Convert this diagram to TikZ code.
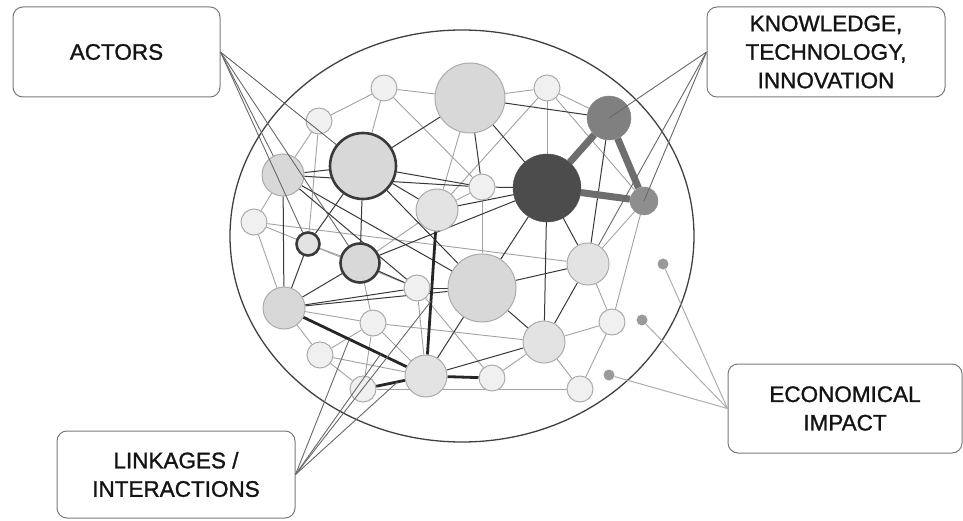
\documentclass[tikz,border=0pt]{standalone}
\usepackage{fontspec}
\setmainfont{Liberation Sans}
\newfontfamily\labelfont[FakeBold=1.2]{Liberation Sans}
\usetikzlibrary{calc}
\pgfdeclarelayer{back}
\pgfdeclarelayer{front}
\pgfsetlayers{back,main,front}

\definecolor{rimgrey}{HTML}{ABABAB}
\definecolor{palefill}{HTML}{F0F0F0}
\definecolor{midfill}{HTML}{E3E3E3}
\definecolor{greyfill}{HTML}{D8D8D8}
\definecolor{actorrim}{HTML}{3A3A3A}
\definecolor{linkdark}{HTML}{383838}
\definecolor{linklight}{HTML}{A2A2A2}
\definecolor{linkheavy}{HTML}{262626}
\definecolor{knowband}{HTML}{6E6E6E}
\definecolor{knowA}{HTML}{808080}
\definecolor{knowB}{HTML}{8E8E8E}
\definecolor{knowC}{HTML}{4C4C4C}
\definecolor{impactdot}{HTML}{9A9A9A}
\definecolor{boxrim}{HTML}{7A7A7A}
\definecolor{pointer}{HTML}{686868}
\definecolor{pointerlight}{HTML}{ADADAD}
\definecolor{textdark}{HTML}{141414}

\begin{document}
\begin{tikzpicture}[x=1pt,y=-1pt,
  dot/.style={circle,inner sep=0pt,draw=rimgrey,line width=1pt},
  pale/.style={dot,fill=palefill},
  mid/.style={dot,fill=midfill},
  grey/.style={dot,fill=greyfill},
  actor/.style={draw=actorrim,line width=2.6pt},
  know/.style={circle,inner sep=0pt,draw=#1,fill=#1},
  impact/.style={circle,inner sep=0pt,minimum size=11pt,fill=impactdot},
  lightlink/.style={draw=linklight,line width=0.9pt},
  darklink/.style={draw=linkdark,line width=1pt},
  heavylink/.style={draw=linkheavy,line width=2.8pt},
  knowlink/.style={draw=knowband,line width=7pt},
  labelbox/.style={draw=boxrim,line width=1pt,rounded corners=10pt,fill=white,
    align=center,inner sep=0pt,text=textdark,
    font=\labelfont\fontsize{22.5}{28.5}\selectfont},
  pointerline/.style={draw=pointer,line width=0.9pt},
  impactline/.style={draw=pointerlight,line width=1pt}]

\useasboundingbox (0,0) rectangle (963,521);

% ---- network nodes ----
\node[pale,minimum size=26pt] (A) at (384,88) {};
\node[pale,minimum size=26pt] (B) at (319,121) {};
\node[grey,actor,minimum size=66pt] (C) at (363,166) {};
\node[grey,minimum size=42pt] (D) at (283,175) {};
\node[grey,minimum size=70pt] (E) at (470,98) {};
\node[mid,minimum size=42pt] (O) at (437,210) {};
\node[pale,minimum size=26pt] (G) at (547,88) {};
\node[know=knowA,minimum size=44pt] (H) at (609,118) {};
\node[know=knowC,minimum size=68pt] (I) at (547,188) {};
\node[know=knowB,minimum size=28pt] (J) at (644,201) {};
\node[pale,minimum size=26pt] (K) at (482,187) {};
\node[pale,minimum size=26pt] (L) at (254,222) {};
\node[mid,actor,minimum size=23pt] (M) at (308,244) {};
\node[grey,actor,minimum size=39pt] (N) at (360,263) {};
\node[pale,minimum size=26pt] (P) at (417,288) {};
\node[grey,minimum size=68pt] (Q) at (482,288) {};
\node[grey,minimum size=42pt] (R) at (284,308) {};
\node[pale,minimum size=26pt] (S) at (373,323) {};
\node[pale,minimum size=26pt] (T) at (320,355) {};
\node[mid,minimum size=42pt] (U) at (426,376) {};
\node[pale,minimum size=26pt] (V) at (363,389) {};
\node[mid,minimum size=42pt] (W) at (588,264) {};
\node[mid,minimum size=42pt] (X) at (544,342) {};
\node[pale,minimum size=26pt] (Y) at (612,322) {};
\node[pale,minimum size=26pt] (Z) at (492,378) {};
\node[pale,minimum size=26pt] (AA) at (580,389) {};

\node[impact] (e1) at (663,264) {};
\node[impact] (e2) at (642,320) {};
\node[impact] (e3) at (609,375) {};

% ---- links and the enclosing system ----
\begin{pgfonlayer}{back}
  \draw[draw=black!75,line width=1.3pt] (462,236) ellipse [x radius=232, y radius=206];
  \foreach \a/\b in {A/B,A/E,A/C,A/K,B/D,B/M,D/L,L/M,L/R,M/N,N/S,R/S,R/T,S/T,
      T/V,S/V,S/U,P/U,S/X,V/AA,X/Y,W/Y,Y/AA,X/AA,X/Z,E/G,G/H,G/J,G/I,G/O,
      E/O,O/K,K/Q,J/W,J/Y,N/O,M/P,P/Z,T/U,L/W}
    \draw[lightlink] (\a) -- (\b);
  \foreach \a/\b in {C/E,E/H,E/I,E/K,C/K,C/O,C/D,C/N,C/M,C/Q,D/R,D/Q,M/R,N/R,
      N/P,R/P,R/Q,K/I,I/Q,I/X,I/W,H/W,Q/W,W/X,Q/X,U/X,Q/U,P/Q,D/K,I/N,O/I,D/P}
    \draw[darklink] (\a) -- (\b);
  \foreach \a/\b in {R/U,U/V,U/Z,O/U}
    \draw[heavylink] (\a) -- (\b);
  \foreach \a/\b in {H/I,H/J,I/J}
    \draw[knowlink] (\a) -- (\b);
\end{pgfonlayer}

% ---- labels ----
\node[labelbox,minimum width=207pt,minimum height=90pt] (actors) at (116.5,52) {ACTORS};
\node[labelbox,minimum width=238pt,minimum height=90pt] (knowledge) at (826,52)
  {KNOWLEDGE,\\TECHNOLOGY,\\INNOVATION};
\node[labelbox,minimum width=238pt,minimum height=87pt] (linkages) at (176,474.5)
  {LINKAGES /\\INTERACTIONS};
\node[labelbox,minimum width=234pt,minimum height=89pt] (economic) at (845,408.5)
  {ECONOMICAL\\IMPACT};

% points on the linkages that the label refers to
\coordinate (k1) at ($(R)!0.46!(U)$);
\coordinate (k2) at ($(R)!0.68!(U)$);
\coordinate (k3) at ($(O)!0.55!(U)$);
\coordinate (k4) at ($(V)!0.55!(U)$);

\begin{pgfonlayer}{front}
  \foreach \t in {C,D,M,N}
    \draw[pointerline] (actors.east) -- (\t);
  \draw[pointerline] (knowledge.west) -- (H.center);
  \draw[pointerline] (knowledge.west) -- (J.center);
  \draw[pointerline] (knowledge.west) -- (W);
  \foreach \t in {k1,k2,k3,k4}
    \draw[pointerline] (linkages.east) -- (\t);
  \foreach \t in {e1,e2,e3}
    \draw[impactline] (economic.west) -- (\t);
\end{pgfonlayer}
\end{tikzpicture}
\end{document}
